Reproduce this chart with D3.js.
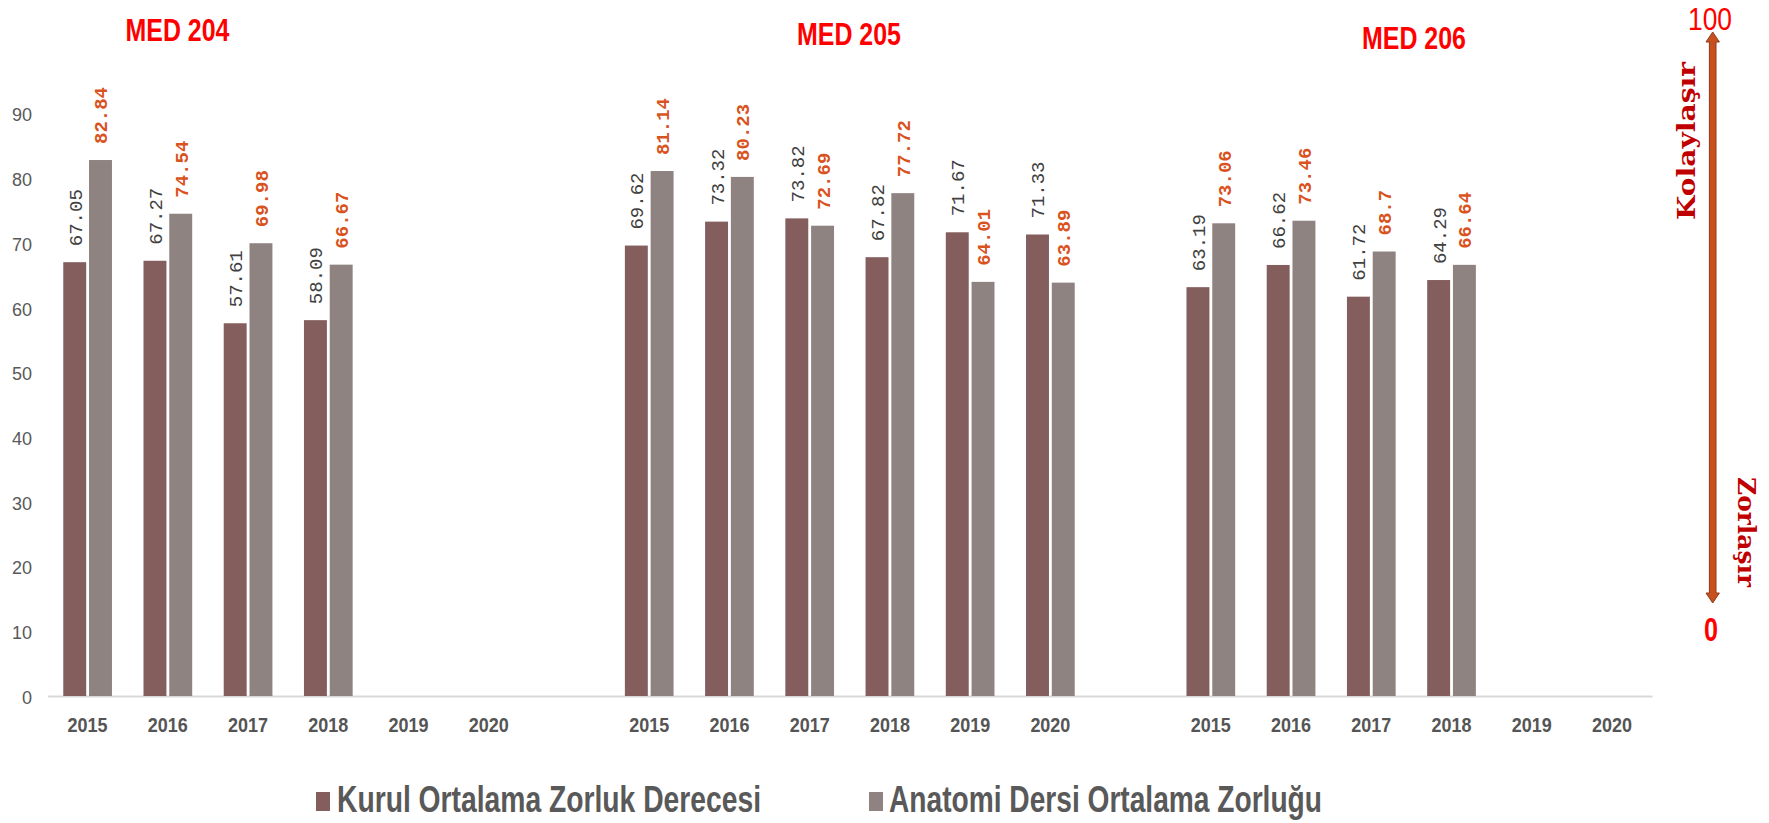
<!DOCTYPE html>
<html>
<head>
<meta charset="utf-8">
<script src="https://cdn.jsdelivr.net/npm/d3@7"></script>
<style>
  html, body { margin: 0; padding: 0; background: #ffffff; }
  svg { display: block; }
</style>
</head>
<body>
<script>
// ---------------- DATA ----------------
const groups = ["MED 204", "MED 205", "MED 206"];
const years = ["2015", "2016", "2017", "2018", "2019", "2020"];
const seriesNames = ["Kurul Ortalama Zorluk Derecesi", "Anatomi Dersi Ortalama Zorluğu"];

const kurulMed204 = [67.05, 67.27, 57.61, 58.09, null, null];
const kurulMed205 = [69.62, 73.32, 73.82, 67.82, 71.67, 71.33];
const kurulMed206 = [63.19, 66.62, 61.72, 64.29, null, null];

const anatomiMed204 = [82.84, 74.54, 69.98, 66.67, null, null];
const anatomiMed205 = [81.14, 80.23, 72.69, 77.72, 64.01, 63.89];
const anatomiMed206 = [73.06, 73.46, 68.70, 66.64, null, null];

const yTicks = [0, 10, 20, 30, 40, 50, 60, 70, 80, 90];
const scaleEnds = ["100", "0"];
const scaleWords = ["Kolaylaşır", "Zorlaşır"];

// ---------------- LAYOUT ----------------
const W = 1769, H = 823;
const kurulColor = "#845d5d";
const anatomiColor = "#8f8382";
const kurulByGroup = [kurulMed204, kurulMed205, kurulMed206];
const anatomiByGroup = [anatomiMed204, anatomiMed205, anatomiMed206];

const svg = d3.select("body").append("svg")
  .attr("width", W).attr("height", H)
  .attr("viewBox", `0 0 ${W} ${H}`);

// slots: each group's years, plus an empty slot between groups
const slots = [];
groups.forEach((g, gi) => {
  years.forEach(yr => slots.push(g + "|" + yr));
  if (gi < groups.length - 1) slots.push("gap" + gi);
});

const x = d3.scaleBand().domain(slots).range([47.5, 1652.1])
  .paddingInner(0.393).paddingOuter(0.1965);
const xs = d3.scaleBand().domain(["kurul", "anatomi"])
  .range([0, x.bandwidth()]).paddingInner(0.11);
const y = d3.scaleLinear().domain([0, 100]).range([696, 49]);

const rows = [];
groups.forEach((g, gi) => {
  years.forEach((yr, yi) => {
    rows.push({ slot: g + "|" + yr, key: "kurul", v: kurulByGroup[gi][yi] });
    rows.push({ slot: g + "|" + yr, key: "anatomi", v: anatomiByGroup[gi][yi] });
  });
});
const valid = rows.filter(d => d.v !== null);

// ---------------- Y AXIS (labels only) ----------------
const yAxis = svg.append("g")
  .attr("transform", "translate(32,0)")
  .call(d3.axisLeft(y).tickValues(yTicks).tickSize(0).tickPadding(0));
yAxis.select(".domain").remove();
yAxis.selectAll("text")
  .attr("font-family", "'Liberation Sans', Arial, sans-serif")
  .attr("font-size", 18)
  .attr("fill", "#595959")
  .attr("dy", "0.4em");

// ---------------- X AXIS ----------------
const xAxis = svg.append("g")
  .attr("transform", "translate(0,696)")
  .call(d3.axisBottom(x).tickSize(0).tickPadding(0)
    .tickFormat(d => d.startsWith("gap") ? "" : d.split("|")[1]));
xAxis.select(".domain").attr("stroke", "#d9d9d9").attr("stroke-width", 2.2);
xAxis.selectAll("text")
  .attr("y", 36).attr("dy", 0)
  .attr("font-family", "'Liberation Sans', Arial, sans-serif")
  .attr("font-weight", "bold")
  .attr("font-size", 21)
  .attr("fill", "#555555")
  .each(function (d) {
    if (!d.startsWith("gap")) {
      d3.select(this).attr("textLength", 40).attr("lengthAdjust", "spacingAndGlyphs");
    }
  });

// ---------------- BARS ----------------
svg.append("g").selectAll("rect")
  .data(valid)
  .join("rect")
  .attr("x", d => x(d.slot) + xs(d.key))
  .attr("y", d => y(d.v))
  .attr("width", xs.bandwidth())
  .attr("height", d => y(0) - y(d.v))
  .attr("fill", d => d.key === "kurul" ? kurulColor : anatomiColor);

// ---------------- DATA LABELS ----------------
svg.append("g").selectAll("text")
  .data(valid)
  .join("text")
  .attr("transform", d => {
    const cx = x(d.slot) + xs(d.key) + xs.bandwidth() / 2 + 7;
    return `translate(${cx},${y(d.v) - 16}) rotate(-90)`;
  })
  .attr("text-anchor", "start")
  .attr("font-family", "'Liberation Mono', 'DejaVu Sans Mono', monospace")
  .attr("font-size", 19)
  .attr("font-weight", d => d.key === "kurul" ? "normal" : "bold")
  .attr("fill", d => d.key === "kurul" ? "#404040" : "#d9531e")
  .text(d => String(d.v));

// ---------------- GROUP TITLES ----------------
const titleX = [177.5, 849, 1414];
const titleY = [41, 45, 49];
svg.append("g").selectAll("text")
  .data(groups)
  .join("text")
  .attr("x", (d, i) => titleX[i])
  .attr("y", (d, i) => titleY[i])
  .attr("text-anchor", "middle")
  .attr("font-family", "'Liberation Sans', Arial, sans-serif")
  .attr("font-weight", "bold")
  .attr("font-size", 32)
  .attr("fill", "#ff0000")
  .attr("textLength", 104)
  .attr("lengthAdjust", "spacingAndGlyphs")
  .text(d => d);

// ---------------- LEGEND ----------------
const legendSq = [316, 869];
const legendTx = [337, 889];
const legendLen = [424, 433];
const legend = svg.append("g");
seriesNames.forEach((name, i) => {
  legend.append("rect")
    .attr("x", legendSq[i]).attr("y", 792)
    .attr("width", 14).attr("height", 19)
    .attr("fill", i === 0 ? kurulColor : anatomiColor);
  legend.append("text")
    .attr("x", legendTx[i]).attr("y", 812)
    .attr("font-family", "'Liberation Sans', Arial, sans-serif")
    .attr("font-weight", "bold")
    .attr("font-size", 36)
    .attr("fill", "#595959")
    .attr("textLength", legendLen[i])
    .attr("lengthAdjust", "spacingAndGlyphs")
    .text(name);
});

// ---------------- RIGHT DIFFICULTY ARROW ----------------
const arrX = 1712.7, arrTop = 32, arrBot = 603, arrHw = 3.3, arrHh = 6.7, arrHl = 10;
const arrowPts = [
  [arrX, arrTop], [arrX + arrHh, arrTop + arrHl], [arrX + arrHw, arrTop + arrHl],
  [arrX + arrHw, arrBot - arrHl], [arrX + arrHh, arrBot - arrHl], [arrX, arrBot],
  [arrX - arrHh, arrBot - arrHl], [arrX - arrHw, arrBot - arrHl],
  [arrX - arrHw, arrTop + arrHl], [arrX - arrHh, arrTop + arrHl]
];
svg.append("path")
  .attr("d", d3.line()(arrowPts) + "Z")
  .attr("fill", "#c8501e")
  .attr("stroke", "#8e3a17")
  .attr("stroke-width", 1);

svg.append("text")
  .attr("x", 1710).attr("y", 30)
  .attr("text-anchor", "middle")
  .attr("font-family", "'Liberation Sans', Arial, sans-serif")
  .attr("font-size", 32)
  .attr("fill", "#ff0000")
  .attr("textLength", 44).attr("lengthAdjust", "spacingAndGlyphs")
  .text(scaleEnds[0]);
svg.append("text")
  .attr("x", 1711).attr("y", 641)
  .attr("text-anchor", "middle")
  .attr("font-family", "'Liberation Sans', Arial, sans-serif")
  .attr("font-weight", "bold")
  .attr("font-size", 34)
  .attr("fill", "#ff0000")
  .attr("textLength", 14).attr("lengthAdjust", "spacingAndGlyphs")
  .text(scaleEnds[1]);

svg.append("text")
  .attr("transform", "translate(1695,141) rotate(-90)")
  .attr("text-anchor", "middle")
  .attr("font-family", "'DejaVu Serif', serif")
  .attr("font-weight", "bold")
  .attr("font-size", 25)
  .attr("fill", "#c00000")
  .attr("textLength", 158).attr("lengthAdjust", "spacingAndGlyphs")
  .text(scaleWords[0]);
svg.append("text")
  .attr("transform", "translate(1738,532) rotate(90)")
  .attr("text-anchor", "middle")
  .attr("font-family", "'DejaVu Serif', serif")
  .attr("font-weight", "bold")
  .attr("font-size", 25)
  .attr("fill", "#c00000")
  .attr("textLength", 110).attr("lengthAdjust", "spacingAndGlyphs")
  .text(scaleWords[1]);
</script>
</body>
</html>
